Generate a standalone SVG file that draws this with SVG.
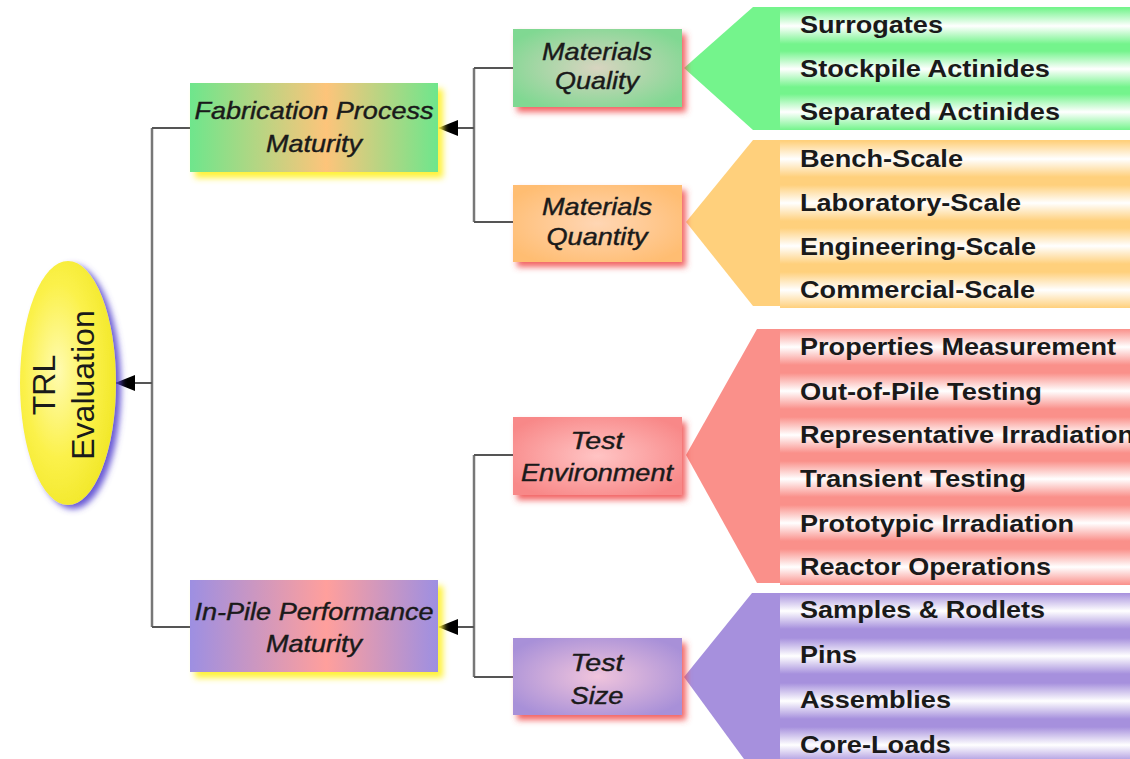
<svg xmlns="http://www.w3.org/2000/svg" width="1130" height="759" viewBox="0 0 1130 759">
<style>
.item{font-family:"Liberation Sans",Arial,sans-serif;font-weight:bold;font-size:24px;fill:#1a1a1a}
.box{font-family:"Liberation Sans",Arial,sans-serif;font-style:italic;font-size:24px;fill:#1a1a1a;text-anchor:middle;stroke:#1a1a1a;stroke-width:0.4}
.trl{font-family:"Liberation Sans",Arial,sans-serif;font-size:32px;fill:#1a1a1a;text-anchor:middle}
.ln{stroke:#555;stroke-width:2;fill:none}
.vl{stroke:#777;stroke-width:2.5;fill:none}
</style>
<defs>
<marker id="ah" viewBox="0 0 20 16" refX="19" refY="8" markerWidth="20" markerHeight="16" markerUnits="userSpaceOnUse" orient="auto">
<path d="M0,0 L20,8 L0,16 Z" fill="#000"/>
</marker>
<filter id="shR" x="-20%" y="-30%" width="150%" height="170%"><feDropShadow dx="4" dy="5" stdDeviation="3" flood-color="#f04848" flood-opacity="0.85"/></filter>
<filter id="shY" x="-20%" y="-30%" width="150%" height="170%"><feDropShadow dx="5" dy="6" stdDeviation="3" flood-color="#fff23a" flood-opacity="1"/></filter>
<filter id="shP" x="-30%" y="-20%" width="170%" height="150%"><feDropShadow dx="5" dy="4" stdDeviation="3" flood-color="#5a4ad0" flood-opacity="0.9"/></filter>
<linearGradient id="gFab" x1="0" y1="0" x2="1" y2="0"><stop offset="0" stop-color="#6ee68c"/><stop offset="0.55" stop-color="#fdc47a"/><stop offset="1" stop-color="#6ee68c"/></linearGradient>
<linearGradient id="gPile" x1="0" y1="0" x2="1" y2="0"><stop offset="0" stop-color="#9d8fe2"/><stop offset="0.55" stop-color="#ff9f9c"/><stop offset="1" stop-color="#9d8fe2"/></linearGradient>
<radialGradient id="rQ" cx="0.5" cy="0.5" r="0.6"><stop offset="0" stop-color="#d8d4c0"/><stop offset="1" stop-color="#80d892"/></radialGradient>
<radialGradient id="rQt" cx="0.5" cy="0.5" r="0.6"><stop offset="0" stop-color="#ffd6b4"/><stop offset="1" stop-color="#ffbd72"/></radialGradient>
<radialGradient id="rTE" cx="0.5" cy="0.5" r="0.6"><stop offset="0" stop-color="#ffc4c4"/><stop offset="1" stop-color="#f88888"/></radialGradient>
<radialGradient id="rTS" cx="0.5" cy="0.5" r="0.6"><stop offset="0" stop-color="#f0c4dc"/><stop offset="1" stop-color="#a890d8"/></radialGradient>
<radialGradient id="rEl" cx="0.4" cy="0.45" r="0.6"><stop offset="0" stop-color="#fffbb0"/><stop offset="0.6" stop-color="#fbf14a"/><stop offset="1" stop-color="#f2e82a"/></radialGradient>
<linearGradient id="bG" x1="0" y1="0" x2="0" y2="1"><stop offset="0" stop-color="#74f48c"/><stop offset="0.5" stop-color="#ffffff"/><stop offset="1" stop-color="#74f48c"/></linearGradient>
<linearGradient id="bO" x1="0" y1="0" x2="0" y2="1"><stop offset="0" stop-color="#ffd07c"/><stop offset="0.5" stop-color="#ffffff"/><stop offset="1" stop-color="#ffd07c"/></linearGradient>
<linearGradient id="bR" x1="0" y1="0" x2="0" y2="1"><stop offset="0" stop-color="#fa908a"/><stop offset="0.5" stop-color="#ffffff"/><stop offset="1" stop-color="#fa908a"/></linearGradient>
<linearGradient id="bP" x1="0" y1="0" x2="0" y2="1"><stop offset="0" stop-color="#a690dd"/><stop offset="0.5" stop-color="#ffffff"/><stop offset="1" stop-color="#a690dd"/></linearGradient>
</defs>
<rect width="1130" height="759" fill="#fff"/>

<g id="connectors">
<line class="vl" x1="152" y1="128" x2="152" y2="627"/>
<line class="ln" x1="152" y1="383" x2="116" y2="383" marker-end="url(#ah)"/>
<line class="ln" x1="152" y1="128" x2="190" y2="128"/>
<line class="ln" x1="152" y1="627" x2="190" y2="627"/>
<line class="vl" x1="474" y1="68" x2="474" y2="222"/>
<line class="ln" x1="474" y1="128" x2="439" y2="128" marker-end="url(#ah)"/>
<line class="ln" x1="474" y1="68" x2="513" y2="68"/>
<line class="ln" x1="474" y1="222" x2="513" y2="222"/>
<line class="vl" x1="474" y1="455" x2="474" y2="677"/>
<line class="ln" x1="474" y1="627" x2="439" y2="627" marker-end="url(#ah)"/>
<line class="ln" x1="474" y1="455" x2="513" y2="455"/>
<line class="ln" x1="474" y1="677" x2="513" y2="677"/>
</g>

<g id="fan-quality">
<polygon points="684,68 753,7 1130,7 1130,130 753,130" fill="#74f48c"/>
<rect x="780" y="8" width="350" height="36" fill="url(#bG)"/>
<rect x="780" y="51" width="350" height="36" fill="url(#bG)"/>
<rect x="780" y="94" width="350" height="36" fill="url(#bG)"/>
<text class="item" x="800" y="33" textLength="143" lengthAdjust="spacingAndGlyphs">Surrogates</text>
<text class="item" x="800" y="77" textLength="250" lengthAdjust="spacingAndGlyphs">Stockpile Actinides</text>
<text class="item" x="800" y="120" textLength="260" lengthAdjust="spacingAndGlyphs">Separated Actinides</text>
</g>

<g id="fan-quantity">
<polygon points="686,222 753,140 1130,140 1130,306 753,306" fill="#ffd07c"/>
<rect x="780" y="141" width="350" height="36" fill="url(#bO)"/>
<rect x="780" y="185" width="350" height="36" fill="url(#bO)"/>
<rect x="780" y="228" width="350" height="36" fill="url(#bO)"/>
<rect x="780" y="272" width="350" height="36" fill="url(#bO)"/>
<text class="item" x="800" y="167" textLength="163" lengthAdjust="spacingAndGlyphs">Bench-Scale</text>
<text class="item" x="800" y="211" textLength="221" lengthAdjust="spacingAndGlyphs">Laboratory-Scale</text>
<text class="item" x="800" y="255" textLength="236" lengthAdjust="spacingAndGlyphs">Engineering-Scale</text>
<text class="item" x="800" y="298" textLength="235" lengthAdjust="spacingAndGlyphs">Commercial-Scale</text>
</g>

<g id="fan-environment">
<polygon points="686,455 757,329 1130,329 1130,583 757,583" fill="#fa908a"/>
<rect x="780" y="329" width="350" height="36" fill="url(#bR)"/>
<rect x="780" y="373" width="350" height="36" fill="url(#bR)"/>
<rect x="780" y="417" width="350" height="36" fill="url(#bR)"/>
<rect x="780" y="461" width="350" height="36" fill="url(#bR)"/>
<rect x="780" y="505" width="350" height="36" fill="url(#bR)"/>
<rect x="780" y="549" width="350" height="36" fill="url(#bR)"/>
<text class="item" x="800" y="355" textLength="316" lengthAdjust="spacingAndGlyphs">Properties Measurement</text>
<text class="item" x="800" y="400" textLength="242" lengthAdjust="spacingAndGlyphs">Out-of-Pile Testing</text>
<text class="item" x="800" y="443" textLength="334" lengthAdjust="spacingAndGlyphs">Representative Irradiation</text>
<text class="item" x="800" y="487" textLength="226" lengthAdjust="spacingAndGlyphs">Transient Testing</text>
<text class="item" x="800" y="532" textLength="274" lengthAdjust="spacingAndGlyphs">Prototypic Irradiation</text>
<text class="item" x="800" y="575" textLength="251" lengthAdjust="spacingAndGlyphs">Reactor Operations</text>
</g>

<g id="fan-size">
<polygon points="684,677 752,593 1130,593 1130,770 752,770" fill="#a690dd"/>
<rect x="780" y="593" width="350" height="36" fill="url(#bP)"/>
<rect x="780" y="638" width="350" height="36" fill="url(#bP)"/>
<rect x="780" y="683" width="350" height="36" fill="url(#bP)"/>
<rect x="780" y="727" width="350" height="36" fill="url(#bP)"/>
<text class="item" x="800" y="618" textLength="245" lengthAdjust="spacingAndGlyphs">Samples &amp; Rodlets</text>
<text class="item" x="800" y="663" textLength="57" lengthAdjust="spacingAndGlyphs">Pins</text>
<text class="item" x="800" y="708" textLength="151" lengthAdjust="spacingAndGlyphs">Assemblies</text>
<text class="item" x="800" y="753" textLength="151" lengthAdjust="spacingAndGlyphs">Core-Loads</text>
</g>

<g id="trl-evaluation">
<ellipse cx="68" cy="383" rx="48" ry="122" fill="url(#rEl)" filter="url(#shP)"/>
<text class="trl" transform="translate(55,385) rotate(-90)">TRL</text>
<text class="trl" transform="translate(94,385) rotate(-90)">Evaluation</text>
</g>

<g id="fabrication">
<rect x="190" y="83" width="248" height="89" fill="url(#gFab)" filter="url(#shY)"/>
<text class="box" x="314" y="119" textLength="239" lengthAdjust="spacingAndGlyphs">Fabrication Process</text>
<text class="box" x="314" y="152" textLength="96" lengthAdjust="spacingAndGlyphs">Maturity</text>
</g>

<g id="inpile">
<rect x="190" y="580" width="248" height="92" fill="url(#gPile)" filter="url(#shY)"/>
<text class="box" x="314" y="620" textLength="239" lengthAdjust="spacingAndGlyphs">In-Pile Performance</text>
<text class="box" x="314" y="652" textLength="96" lengthAdjust="spacingAndGlyphs">Maturity</text>
</g>

<g id="materials-quality">
<rect x="513" y="29" width="169" height="78" fill="url(#rQ)" filter="url(#shR)"/>
<text class="box" x="597" y="60" textLength="110" lengthAdjust="spacingAndGlyphs">Materials</text>
<text class="box" x="597" y="89" textLength="84" lengthAdjust="spacingAndGlyphs">Quality</text>
</g>

<g id="materials-quantity">
<rect x="513" y="185" width="169" height="77" fill="url(#rQt)" filter="url(#shR)"/>
<text class="box" x="597" y="215" textLength="110" lengthAdjust="spacingAndGlyphs">Materials</text>
<text class="box" x="597" y="245" textLength="101" lengthAdjust="spacingAndGlyphs">Quantity</text>
</g>

<g id="test-environment">
<rect x="513" y="417" width="169" height="78" fill="url(#rTE)" filter="url(#shR)"/>
<text class="box" x="597" y="449" textLength="53" lengthAdjust="spacingAndGlyphs">Test</text>
<text class="box" x="597" y="481" textLength="152" lengthAdjust="spacingAndGlyphs">Environment</text>
</g>

<g id="test-size">
<rect x="513" y="638" width="169" height="77" fill="url(#rTS)" filter="url(#shR)"/>
<text class="box" x="597" y="671" textLength="53" lengthAdjust="spacingAndGlyphs">Test</text>
<text class="box" x="597" y="704" textLength="53" lengthAdjust="spacingAndGlyphs">Size</text>
</g>
</svg>
